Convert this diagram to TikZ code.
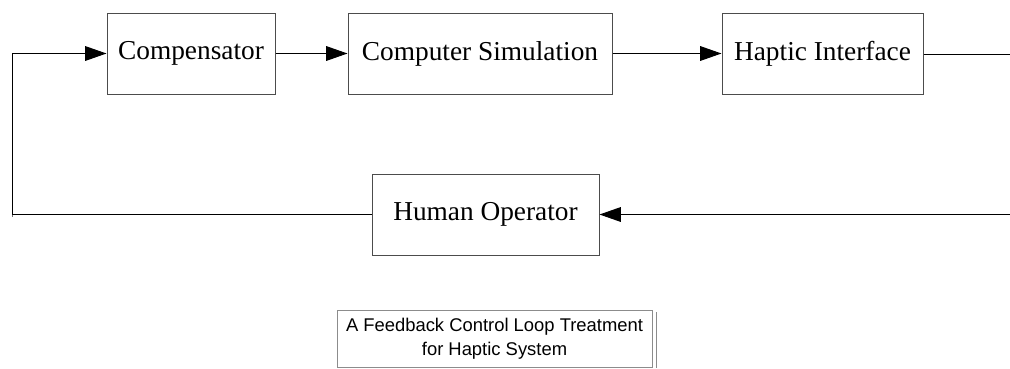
\documentclass[tikz,border=0pt]{standalone}
\usepackage{fontspec}
\setmainfont{Liberation Serif}
\newfontfamily\capfont{Liberation Sans}
\usetikzlibrary{arrows.meta}
\begin{document}
\begin{tikzpicture}[x=0.75pt,y=-0.75pt,
  blk/.style={draw=black!70, line width=0.75pt, inner sep=0pt, minimum height=60.75pt,
    font=\fontsize{20.5}{24}\selectfont},
  conn/.style={line width=0.75pt, black},
  arr/.style={conn, -{Triangle[length=16pt,width=11pt]}},
  capbox/.style={draw=black!45, line width=0.75pt, inner sep=0pt, minimum width=236.25pt,
    minimum height=42.75pt, align=center, font=\capfont\fontsize{13.8}{18}\selectfont}]
\useasboundingbox (0,0) rectangle (1010,368);
\node[blk, minimum width=126pt] (comp) at (191,53.5) {Compensator};
\node[blk, minimum width=198pt] (sim) at (480,53.5) {Computer Simulation};
\node[blk, minimum width=150.75pt] (hap) at (822.5,54) {Haptic Interface};
\node[blk, minimum width=170.25pt] (hum) at (485.5,214.5) {Human Operator};
\node[capbox] (cap) at (494.5,338.5) {A Feedback Control Loop Treatment\\for Haptic System};
\draw[black!45, line width=0.75pt] ([xshift=3pt,yshift=-2pt]cap.north east) -- ([xshift=3pt]cap.south east);
\coordinate (lb) at (12,214.5);
\coordinate (lbx) at (12,217);
\coordinate (rt) at (1010,54);
\coordinate (rb) at (1010,214.5);
\draw[arr] (hum.west) -- (lb) |- (comp.west);
\draw[black!55, line width=0.75pt] (lb) -- (lbx);
\draw[arr] (comp.east) -- (sim.west);
\draw[arr] (sim.east) -- (sim.east -| hap.west);
\draw[conn] (hap.east) -- (rt);
\draw[arr] (rb) -- (hum.east);
\end{tikzpicture}
\end{document}
